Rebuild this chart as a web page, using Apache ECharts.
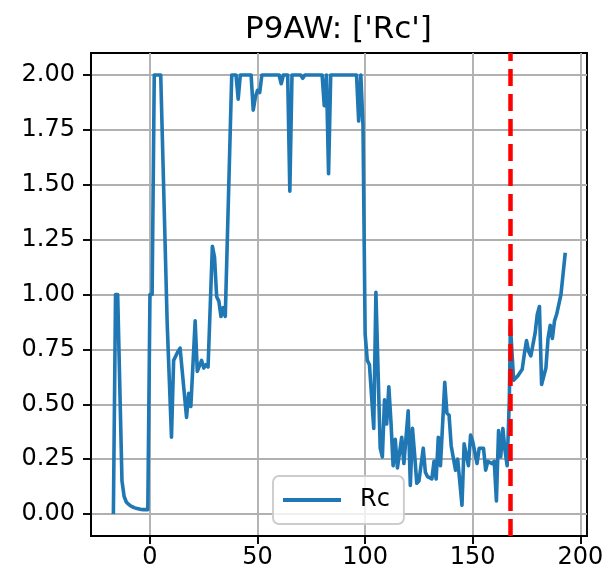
<!DOCTYPE html>
<html>
<head>
<meta charset="utf-8">
<script src="https://cdn.jsdelivr.net/npm/echarts@6/dist/echarts.min.js"></script>
<style>html,body{margin:0;padding:0;background:#fff;}#c{width:609px;height:579px;}</style>
</head>
<body>
<div id="c"></div>
<script>
const titleText = "P9AW: ['Rc']";
const seriesName = 'Rc';
const days = [-17,-16,-15,-13,-12,-11,-10,-9,-8,-7,-6,-5,-4,-3,-2,-1,0,1,2,5,8,10,11,12,13,14,17,18,19,21,22,24,25,26,27,29,30,31,32,33,34,35,38,40,41,42,47,48,49,50,51,52,60,61,62,64,65,66,70,71,72,80,81,82,83,84,96,97,98,99,100,101,102,104,105,107,108,109,110,111,112,113,114,115,117,118,120,121,122,123,124,125,127,128,129,131,132,133,134,135,137,138,139,140,142,143,145,146,148,149,150,152,153,155,156,157,159,160,161,162,163,164,165,166,167,167.5,169,171,173,174,175,176,177,179,180,181,182,184,185,186,187,188,189,191,193];
const rc = [0,1.0,1.0,0.15,0.08,0.055,0.045,0.037,0.032,0.028,0.025,0.023,0.021,0.02,0.02,0.02,1.0,1.0,2.0,2.0,0.87,0.35,0.70,0.72,0.74,0.756,0.44,0.55,0.49,0.88,0.65,0.70,0.665,0.68,0.67,1.22,1.17,0.99,0.97,0.90,0.94,0.90,2.0,2.0,1.89,2.0,2.0,1.84,1.90,1.93,1.92,2.0,2.0,1.96,2.0,2.0,1.47,2.0,2.0,1.985,2.0,2.0,1.86,2.0,1.55,2.0,2.0,1.79,2.0,1.77,0.82,0.70,0.68,0.39,1.01,0.30,0.26,0.52,0.41,0.58,0.42,0.22,0.34,0.21,0.35,0.23,0.47,0.13,0.39,0.27,0.14,0.15,0.30,0.19,0.17,0.16,0.24,0.16,0.35,0.22,0.60,0.46,0.45,0.31,0.20,0.25,0.04,0.32,0.22,0.36,0.33,0.23,0.30,0.30,0.20,0.24,0.23,0.24,0.06,0.38,0.26,0.39,0.29,0.22,0.52,0.86,0.61,0.63,0.66,0.73,0.79,0.74,0.72,0.825,0.91,0.945,0.59,0.665,0.80,0.86,0.80,0.88,0.91,1.0,1.19];
const eventDay = 167.5;
const xTicks = [0,50,100,150,200];
const yTicks = [0,0.25,0.5,0.75,1.0,1.25,1.5,1.75,2.0];

const font = 'DejaVu Sans';
const data = days.map((d,i)=>[d, rc[i]]);
const chart = echarts.init(document.getElementById('c'), null, {renderer:'canvas'});
chart.setOption({
  animation:false,
  backgroundColor:'#fff',
  title:{text:titleText,left:245,top:14,padding:0,textStyle:{fontFamily:font,fontSize:31,fontWeight:'normal',color:'#000'}},
  grid:{left:91,right:22,top:53,bottom:43,show:true,borderColor:'#000',borderWidth:1.9,backgroundColor:'transparent'},
  legend:{data:[{name:seriesName,icon:'rect'}],left:273,top:476,itemWidth:58,itemHeight:4,
    padding:[12,14,12,10],borderColor:'#cccccc',borderWidth:1.9,borderRadius:6,backgroundColor:'rgba(255,255,255,0.8)',
    textStyle:{fontFamily:font,fontSize:24,color:'#000',padding:[0,0,0,14]}},
  xAxis:{type:'value',min:-27.4,max:203.1,
    axisLine:{show:true,onZero:false,lineStyle:{color:'#000',width:1.9}},
    axisTick:{show:true,length:8,lineStyle:{color:'#000',width:1.9},customValues:xTicks},
    axisLabel:{customValues:xTicks,margin:10,fontFamily:font,fontSize:24,color:'#000',formatter:v=>String(v)},
    splitLine:{show:true,lineStyle:{color:'#b0b0b0',width:1.9}}},
  yAxis:{type:'value',min:-0.1,max:2.1,
    axisLine:{show:true,onZero:false,lineStyle:{color:'#000',width:1.9}},
    axisTick:{show:true,length:8,lineStyle:{color:'#000',width:1.9},customValues:yTicks},
    axisLabel:{customValues:yTicks,margin:16,fontFamily:font,fontSize:24,color:'#000',formatter:v=>v.toFixed(2)},
    splitLine:{show:true,lineStyle:{color:'#b0b0b0',width:1.9}}},
  series:[{name:seriesName,type:'line',data:data,showSymbol:false,symbol:'none',
    lineStyle:{color:'#1f77b4',width:3.6,join:'round',cap:'butt'},itemStyle:{color:'#1f77b4'},
    markLine:{silent:true,symbol:'none',label:{show:false},animation:false,
      lineStyle:{color:'#ff0000',width:4.5,type:[17,8]},data:[{xAxis:eventDay}]}}]
});
</script>
</body>
</html>
